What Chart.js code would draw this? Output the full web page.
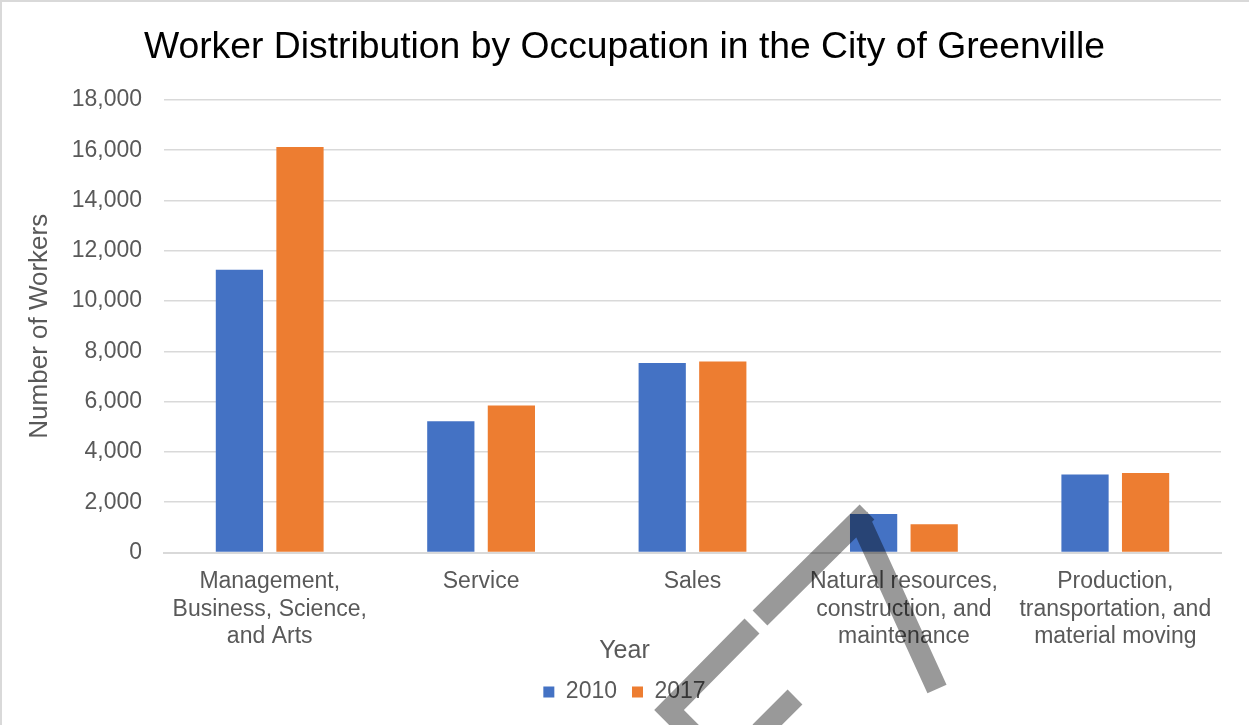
<!DOCTYPE html>
<html>
<head>
<meta charset="utf-8">
<script src="https://cdn.jsdelivr.net/npm/chart.js@4.4.0/dist/chart.umd.min.js"></script>
<style>
  html, body { margin: 0; padding: 0; background: #ffffff; }
  #wrap { width: 1249px; height: 725px; position: relative; }
</style>
</head>
<body>
<div id="wrap"><canvas id="chart"></canvas></div>
<script>
'use strict';

// values
const occupations = [
  ['Management,', 'Business, Science,', 'and Arts'],
  'Service',
  'Sales',
  ['Natural resources,', 'construction, and', 'maintenance'],
  ['Production,', 'transportation, and', 'material moving']
];
const workers2010 = [11250, 5220, 7540, 1530, 3100];
const workers2017 = [16130, 5850, 7600, 1120, 3160];
const seriesNames = ['2010', '2017'];
const yMin = 0;
const yMax = 18000;
const yStep = 2000;

const fontFamily = '"Liberation Sans", Arial, sans-serif';
const textGrey = '#595959';

let canvasElem = document.getElementById('chart');

// grey border of the chart box and the grey stamp drawn over it
const frameAndStamp = {
  id: 'frameAndStamp',
  beforeDraw(chart) {
    const ctx = chart.ctx;
    ctx.save();
    ctx.fillStyle = '#ffffff';
    ctx.fillRect(0, 0, chart.width, chart.height);
    ctx.strokeStyle = '#d9d9d9';
    ctx.lineWidth = 2;
    ctx.beginPath();
    ctx.moveTo(1, chart.height);
    ctx.lineTo(1, 1);
    ctx.lineTo(chart.width, 1);
    ctx.stroke();
    ctx.restore();
  },
  afterDraw(chart) {
    const ctx = chart.ctx;
    ctx.save();
    ctx.strokeStyle = 'rgba(0, 0, 0, 0.4)';
    ctx.lineWidth = 21;
    ctx.lineCap = 'butt';
    ctx.lineJoin = 'miter';
    ctx.beginPath();
    ctx.moveTo(867, 512);
    ctx.lineTo(760, 618);
    ctx.moveTo(752, 626);
    ctx.lineTo(669, 710);
    ctx.lineTo(700, 741);
    ctx.moveTo(795, 697);
    ctx.lineTo(760, 732);
    ctx.moveTo(858, 516);
    ctx.lineTo(937, 689);
    ctx.stroke();
    ctx.restore();
  }
};

function renderChart() {
  const data = {
    labels: occupations,
    datasets: [
      {
        label: seriesNames[0],
        data: workers2010,
        backgroundColor: '#4472c4',
        borderWidth: 0,
        categoryPercentage: 0.573,
        barPercentage: 0.78
      },
      {
        label: seriesNames[1],
        data: workers2017,
        backgroundColor: '#ed7d31',
        borderWidth: 0,
        categoryPercentage: 0.573,
        barPercentage: 0.78
      }
    ]
  };

  const config = {
    type: 'bar',
    data: data,
    plugins: [frameAndStamp],
    options: {
      responsive: true,
      maintainAspectRatio: false,
      animation: false,
      devicePixelRatio: 1,
      layout: { padding: { top: 0, left: 0, right: 0, bottom: 11.5 } },
      plugins: {
        title: {
          display: true,
          text: 'Worker Distribution by Occupation in the City of Greenville',
          color: '#000000',
          font: { family: fontFamily, size: 37.3, weight: 'normal', lineHeight: 1.2 },
          padding: { top: 25, bottom: 30.2 }
        },
        // "Year" sits between the category labels and the legend
        subtitle: {
          display: true,
          position: 'bottom',
          weight: 500,
          text: 'Year',
          color: textGrey,
          font: { family: fontFamily, size: 25, weight: 'normal', lineHeight: 1.2 },
          padding: { top: -12.5, bottom: -0.5 }
        },
        legend: {
          display: true,
          position: 'bottom',
          weight: 1000,
          labels: {
            color: textGrey,
            font: { family: fontFamily, size: 23 },
            boxWidth: 11,
            boxHeight: 11,
            padding: 15
          }
        },
        tooltip: { enabled: false }
      },
      scales: {
        x: {
          grid: { display: false, drawTicks: false },
          border: { display: true, color: '#d9d9d9', width: 2 },
          ticks: {
            color: textGrey,
            font: { family: fontFamily, size: 23, lineHeight: 1.2 },
            padding: 15.5,
            maxRotation: 0,
            minRotation: 0,
            autoSkip: false
          },
          afterFit(scale) { scale.height = 96; }
        },
        y: {
          min: yMin,
          max: yMax,
          grid: { color: '#d9d9d9', lineWidth: 1.5, drawTicks: false },
          border: { display: false },
          ticks: {
            stepSize: yStep,
            color: textGrey,
            font: { family: fontFamily, size: 23 },
            padding: 22
          },
          title: {
            display: true,
            text: 'Number of Workers',
            color: textGrey,
            font: { family: fontFamily, size: 26, lineHeight: 1.2 },
            padding: { top: 24, bottom: 0 }
          },
          afterFit(scale) { scale.width = 164; }
        },
        yRight: {
          type: 'linear',
          position: 'right',
          display: true,
          grid: { display: false, drawTicks: false },
          border: { display: false },
          ticks: { display: false },
          afterFit(scale) { scale.width = 28; }
        }
      }
    }
  };

  const myChart = new Chart(canvasElem, config);
}

renderChart();
</script>
</body>
</html>
